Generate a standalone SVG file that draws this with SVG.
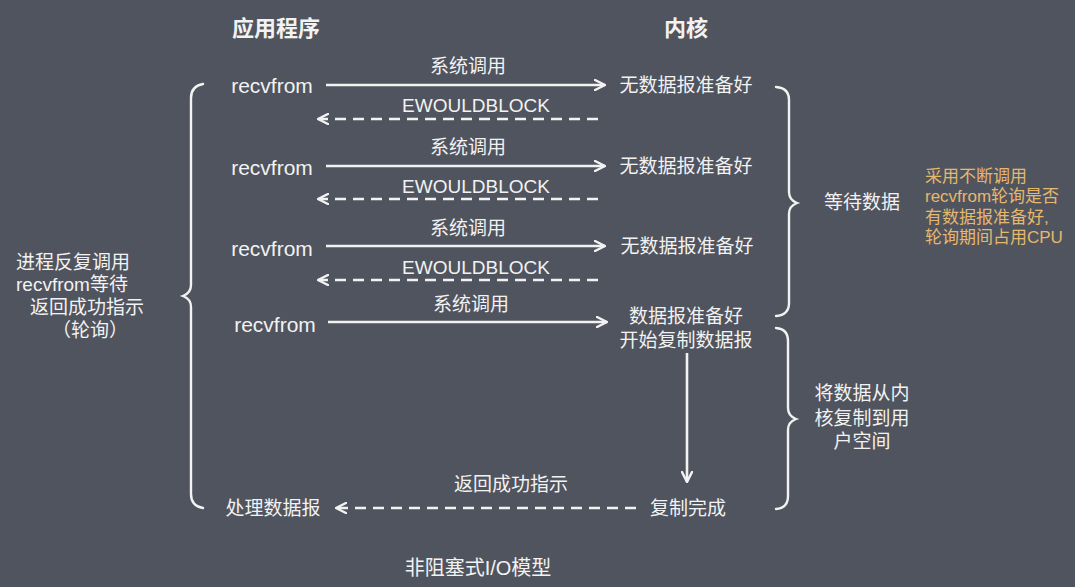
<svg xmlns="http://www.w3.org/2000/svg" width="1075" height="587" viewBox="0 0 1075 587">
<defs>
<marker id="ah" viewBox="0 0 12 12" refX="11" refY="6" markerWidth="12" markerHeight="12" markerUnits="userSpaceOnUse" orient="auto-start-reverse">
<path d="M1,1 L11,6 L1,11" fill="none" stroke="#f2f2f2" stroke-width="2.4" stroke-linecap="round" stroke-linejoin="round"/>
</marker>
</defs>
<style>
text{font-family:"Liberation Sans","Noto Sans CJK SC",sans-serif;fill:#f2f2f2;font-size:19px;dominant-baseline:central;text-anchor:middle}
.h{font-size:22px;font-weight:bold}
.r{font-size:21px}
.o{fill:#e6b86c;font-size:17px;text-anchor:start}
.l{text-anchor:start}
.s{stroke:#f2f2f2;stroke-width:2.6;fill:none;marker-end:url(#ah)}
.d{stroke:#f2f2f2;stroke-width:2.6;fill:none;stroke-dasharray:11 7;marker-end:url(#ah)}
.b{stroke:#f2f2f2;stroke-width:2.4;fill:none;stroke-linecap:round}
</style>
<rect width="1075" height="587" fill="#50545e"/>
<g id="headers">
<text class="h" x="276" y="28">应用程序</text>
<text class="h" x="686" y="28">内核</text>
</g>
<g id="app">
<text class="r" x="272" y="85">recvfrom</text>
<text class="r" x="272" y="167">recvfrom</text>
<text class="r" x="272" y="248">recvfrom</text>
<text class="r" x="275" y="324">recvfrom</text>
<text x="273" y="508">处理数据报</text>
</g>
<g id="kernel">
<text x="686" y="85">无数据报准备好</text>
<text x="686" y="166">无数据报准备好</text>
<text x="687" y="246">无数据报准备好</text>
<text x="686" y="316">数据报准备好</text>
<text x="686" y="340">开始复制数据报</text>
<text x="688" y="508">复制完成</text>
</g>
<g id="connectors">
<line class="s" x1="326" y1="85" x2="605" y2="85"/>
<line class="d" x1="598" y1="119" x2="318" y2="119"/>
<line class="s" x1="326" y1="166" x2="605" y2="166"/>
<line class="d" x1="598" y1="199" x2="318" y2="199"/>
<line class="s" x1="326" y1="246" x2="605" y2="246"/>
<line class="d" x1="598" y1="280" x2="318" y2="280"/>
<line class="s" x1="328" y1="322" x2="607" y2="322"/>
<line class="s" x1="687" y1="353" x2="687" y2="482"/>
<line class="d" x1="636" y1="508" x2="336" y2="508"/>
</g>
<g id="labels">
<text x="468" y="66">系统调用</text>
<text x="476" y="105">EWOULDBLOCK</text>
<text x="468" y="147">系统调用</text>
<text x="476" y="186">EWOULDBLOCK</text>
<text x="468" y="228">系统调用</text>
<text x="476" y="267">EWOULDBLOCK</text>
<text x="471" y="304">系统调用</text>
<text x="511" y="484">返回成功指示</text>
</g>
<g id="left-brace">
<path class="b" d="M203,84 Q191,86 191,98 L191,285 Q191,293 183,296 Q191,299 191,307 L191,494 Q191,506 203,508"/>
<text class="l" x="16" y="262">进程反复调用</text>
<text class="l" x="16" y="284">recvfrom等待</text>
<text class="l" x="30" y="307">返回成功指示</text>
<text x="90" y="330">（轮询）</text>
</g>
<g id="wait-brace">
<path class="b" d="M776,87 Q789,88 789,100 L789,192 Q789,200 797,203 Q789,206 789,214 L789,303 Q789,315 776,316"/>
<text x="862" y="202">等待数据</text>
</g>
<g id="copy-brace">
<path class="b" d="M776,328 Q788,329 788,341 L788,408 Q788,416 796,419 Q788,422 788,430 L788,496 Q788,508 776,509"/>
<text x="862" y="393">将数据从内</text>
<text x="862" y="418">核复制到用</text>
<text x="862" y="441">户空间</text>
</g>
<g id="note">
<text class="o" x="925" y="176">采用不断调用</text>
<text class="o" x="925" y="196">recvfrom轮询是否</text>
<text class="o" x="925" y="217">有数据报准备好,</text>
<text class="o" x="925" y="237">轮询期间占用CPU</text>
</g>
<g id="title">
<text x="478" y="568" style="font-size:20px">非阻塞式I/O模型</text>
</g>
</svg>
